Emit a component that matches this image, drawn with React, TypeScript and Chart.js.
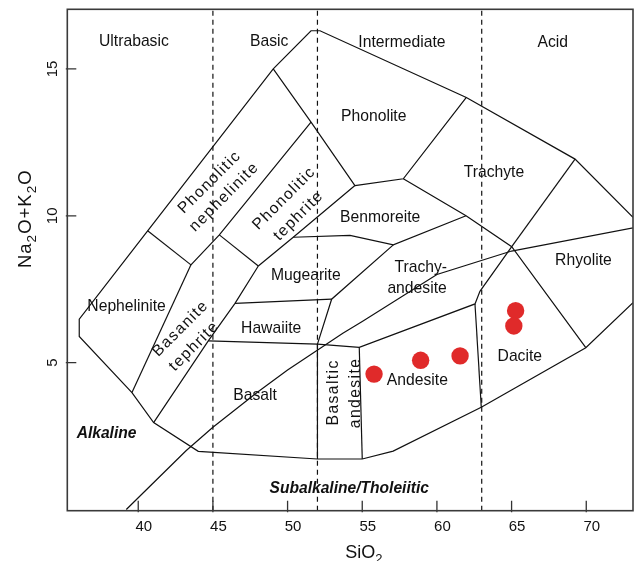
import React, { useEffect, useRef } from 'react';
import { Chart, registerables } from 'chart.js';

Chart.register(...registerables);

type Pt = [number, number];

// Axis extents (wt.%)
const SIO2_MIN = 35.25;
const SIO2_MAX = 73.13;
const ALK_MIN = -0.04;
const ALK_MAX = 17.03;

const sio2Ticks = [40, 45, 50, 55, 60, 65, 70];
const alkaliTicks = [5, 10, 15];
const silicaClassLimits = [45, 52, 63];

// Analysed samples
const sampleSiO2 = [55.79, 58.91, 61.55, 65.27, 65.15];
const sampleAlkali = [4.61, 5.08, 5.23, 6.77, 6.25];

// Field boundaries, [SiO2, Na2O+K2O]
const outline: Pt[] = [
  [73.13, 9.95], [69.25, 11.93], [61.97, 14.03], [52.17, 16.3], [51.57, 16.3],
  [49.04, 15.0], [40.63, 9.49], [36.05, 6.48], [36.05, 5.89], [39.58, 3.98],
  [41.03, 2.96], [44.02, 1.98], [52.0, 1.72], [55.0, 1.72], [57.07, 1.99],
  [62.97, 3.48], [69.97, 5.51], [73.13, 7.04],
];
const nephelinitePhonNeph: Pt[] = [[40.63, 9.49], [43.53, 8.33]];
const nephelniteBasanite: Pt[] = [[43.53, 8.33], [39.58, 3.98]];
const phonNephPhonTeph: Pt[] = [[43.53, 8.33], [45.43, 9.35], [51.57, 13.19]];
const phonoliteWest: Pt[] = [[49.04, 15.0], [51.57, 13.19], [54.51, 11.03]];
const phonoliteBase: Pt[] = [[54.51, 11.03], [57.75, 11.26], [61.97, 14.03]];
const phonTephEast: Pt[] = [[54.51, 11.03], [50.38, 9.27], [48.04, 8.29]];
const basaniteTop: Pt[] = [[45.43, 9.35], [48.04, 8.29]];
const basaniteEast: Pt[] = [[48.04, 8.29], [46.48, 7.02], [44.69, 5.74], [41.03, 2.96]];
const basaltTop: Pt[] = [
  [44.69, 5.74], [52.0, 5.63], [54.8, 5.52], [62.55, 7.0], [62.88, 7.43], [65.01, 8.95],
];
const basaltEast: Pt[] = [[52.0, 5.63], [52.0, 1.72]];
const basAndesiteEast: Pt[] = [[54.8, 5.52], [55.0, 1.72]];
const andesiteEast: Pt[] = [[62.55, 7.0], [62.97, 3.48]];
const mugeariteBase: Pt[] = [[46.48, 7.02], [52.95, 7.16]];
const hawaiiteEast: Pt[] = [[52.0, 5.63], [52.95, 7.16], [57.08, 9.01]];
const benmoreiteBase: Pt[] = [[50.38, 9.27], [54.18, 9.33], [57.08, 9.01], [61.95, 10.0]];
const trachyteBase: Pt[] = [[57.75, 11.26], [61.95, 10.0], [65.01, 8.95], [69.97, 5.51]];
const rhyoliteWest: Pt[] = [[69.25, 11.93], [65.01, 8.95]];

const fieldLines: Pt[][] = [
  outline, nephelinitePhonNeph, nephelniteBasanite, phonNephPhonTeph, phonoliteWest,
  phonoliteBase, phonTephEast, basaniteTop, basaniteEast, basaltTop, basaltEast,
  basAndesiteEast, andesiteEast, mugeariteBase, hawaiiteEast, benmoreiteBase,
  trachyteBase, rhyoliteWest,
];

// Alkaline / subalkaline divide (Irvine & Baragar, 1971)
const alkalineDivide: Pt[] = [
  [39.2, 0], [40, 0.4], [43.2, 2], [45, 2.8], [48, 4], [50, 4.75],
  [53.7, 6], [55, 6.4], [60, 8], [65, 8.8], [77.4, 10],
];

// Silica classes along the top
const classNames = ['Ultrabasic', 'Basic', 'Intermediate', 'Acid'];
const classX = [39.71, 48.77, 57.66, 67.76];
const classY = [15.93, 15.93, 15.91, 15.91];

// Rock names, horizontal
const fieldNames = [
  'Phonolite', 'Trachyte', 'Benmoreite', 'Rhyolite', 'Trachy-', 'andesite',
  'Mugearite', 'Hawaiite', 'Nephelinite', 'Basalt', 'Andesite', 'Dacite',
];
const fieldX = [55.77, 63.82, 56.2, 69.81, 58.92, 58.67, 51.22, 48.9, 39.22, 47.82, 58.69, 65.55];
const fieldY = [13.38, 11.47, 9.92, 8.46, 8.24, 7.53, 7.95, 6.17, 6.91, 3.88, 4.38, 5.21];

// Rock names, slanted
const slantNames = [
  'Phonolitic', 'nephelinite', 'Phonolitic', 'tephrite', 'Basanite', 'tephrite',
  'Basaltic', 'andesite',
];
const slantX = [44.78, 45.76, 49.78, 50.74, 42.84, 43.75, 53.06, 54.58];
const slantY = [11.14, 10.64, 10.59, 10.0, 6.16, 5.56, 3.99, 3.97];
const slantAngle = [-45, -45, -45, -45, -45, -45, -90, -90];

// Series names
const seriesNames = ['Alkaline', 'Subalkaline/Tholeiitic'];
const seriesX = [37.88, 54.13];
const seriesY = [2.57, 0.72];

const FONT = "'Liberation Sans', Arial, Helvetica, sans-serif";
const INK = '#111';

const toXY = (pts: Pt[]) => pts.map(([x, y]) => ({ x, y }));

const decorPlugin = {
  id: 'tasDecor',
  afterDraw(chart: any) {
    const { ctx, chartArea: a } = chart;
    const sx = chart.scales.x;
    const sy = chart.scales.y;
    ctx.save();

    // inward tick marks
    ctx.strokeStyle = '#333';
    ctx.lineWidth = 1.3;
    ctx.beginPath();
    sio2Ticks.forEach((v) => {
      const px = sx.getPixelForValue(v);
      ctx.moveTo(px, a.bottom + 1.5);
      ctx.lineTo(px, a.bottom - 10);
    });
    alkaliTicks.forEach((v) => {
      const py = sy.getPixelForValue(v);
      ctx.moveTo(a.left - 1.5, py);
      ctx.lineTo(a.left + 9, py);
    });
    ctx.stroke();

    // plot frame
    ctx.strokeStyle = '#3a3a3a';
    ctx.lineWidth = 1.6;
    ctx.strokeRect(a.left, a.top, a.right - a.left, a.bottom - a.top);

    ctx.fillStyle = INK;
    ctx.textAlign = 'center';
    ctx.textBaseline = 'middle';

    // tick labels
    ctx.font = `15px ${FONT}`;
    sio2Ticks.forEach((v) => {
      ctx.fillText(String(v), sx.getPixelForValue(v) + 5.5, a.bottom + 16.5);
    });
    alkaliTicks.forEach((v) => {
      ctx.save();
      ctx.translate(a.left - 14, sy.getPixelForValue(v));
      ctx.rotate(-Math.PI / 2);
      ctx.fillText(String(v), 0, 0);
      ctx.restore();
    });

    // labels inside the diagram
    ctx.font = `15.7px ${FONT}`;
    classNames.forEach((t, i) => {
      ctx.fillText(t, sx.getPixelForValue(classX[i]), sy.getPixelForValue(classY[i]));
    });
    fieldNames.forEach((t, i) => {
      ctx.fillText(t, sx.getPixelForValue(fieldX[i]), sy.getPixelForValue(fieldY[i]));
    });
    slantNames.forEach((t, i) => {
      ctx.save();
      ctx.translate(sx.getPixelForValue(slantX[i]), sy.getPixelForValue(slantY[i]));
      ctx.rotate((slantAngle[i] * Math.PI) / 180);
      (ctx as any).letterSpacing = '1.4px';
      ctx.fillText(t, 0, 0);
      ctx.restore();
    });
    ctx.font = `italic bold 15.6px ${FONT}`;
    seriesNames.forEach((t, i) => {
      ctx.fillText(t, sx.getPixelForValue(seriesX[i]), sy.getPixelForValue(seriesY[i]));
    });

    // axis titles with subscripts
    const drawParts = (parts: [string, boolean][], big: number, small: number, drop: number) => {
      let total = 0;
      parts.forEach(([s, sub]) => {
        ctx.font = `${sub ? small : big}px ${FONT}`;
        total += ctx.measureText(s).width;
      });
      let cx = -total / 2;
      ctx.textAlign = 'left';
      ctx.textBaseline = 'alphabetic';
      parts.forEach(([s, sub]) => {
        ctx.font = `${sub ? small : big}px ${FONT}`;
        ctx.fillText(s, cx, sub ? drop : 0);
        cx += ctx.measureText(s).width;
      });
    };

    ctx.save();
    ctx.translate(sx.getPixelForValue(55) + 1.5, a.bottom + 47);
    drawParts([['SiO', false], ['2', true]], 18, 13, 5);
    ctx.restore();

    ctx.save();
    ctx.translate(31, sy.getPixelForValue(9.9));
    ctx.rotate(-Math.PI / 2);
    (ctx as any).letterSpacing = '1px';
    drawParts(
      [['Na', false], ['2', true], ['O+K', false], ['2', true], ['O', false]],
      18.5, 13.5, 5,
    );
    ctx.restore();

    ctx.restore();
  },
};

export default function App() {
  const canvasRef = useRef<HTMLCanvasElement | null>(null);

  useEffect(() => {
    const canvas = canvasRef.current;
    if (!canvas) return;
    const lineStyle = {
      showLine: true,
      pointRadius: 0,
      pointHoverRadius: 0,
      borderColor: INK,
      borderWidth: 1.2,
      fill: false,
      tension: 0,
      order: 2,
    };
    const chart = new Chart(canvas, {
      type: 'scatter',
      data: {
        datasets: [
          {
            label: 'Samples',
            data: sampleSiO2.map((x, i) => ({ x, y: sampleAlkali[i] })),
            pointRadius: 8.7,
            pointHoverRadius: 8.7,
            backgroundColor: '#e02a2a',
            pointBorderWidth: 0,
            borderWidth: 0,
            showLine: false,
            order: 0,
          } as any,
          ...fieldLines.map((l) => ({ ...lineStyle, data: toXY(l) })),
          { ...lineStyle, data: toXY(alkalineDivide) },
          ...silicaClassLimits.map((v) => ({
            ...lineStyle,
            borderDash: [5, 4],
            data: [{ x: v, y: ALK_MIN }, { x: v, y: ALK_MAX }],
          })),
        ],
      },
      options: {
        responsive: false,
        animation: false,
        events: [],
        layout: {
          autoPadding: false,
          padding: { left: 67.3, top: 9.3, right: 1, bottom: 50.3 },
        },
        plugins: { legend: { display: false }, tooltip: { enabled: false } },
        scales: {
          x: { type: 'linear', min: SIO2_MIN, max: SIO2_MAX, display: false },
          y: { type: 'linear', min: ALK_MIN, max: ALK_MAX, display: false },
        },
      },
      plugins: [decorPlugin],
    });
    return () => chart.destroy();
  }, []);

  return (
    <div style={{ position: 'fixed', left: 0, top: 0, width: 634, height: 561, background: '#fff' }}>
      <canvas ref={canvasRef} width={634} height={561} style={{ display: 'block' }} />
    </div>
  );
}
